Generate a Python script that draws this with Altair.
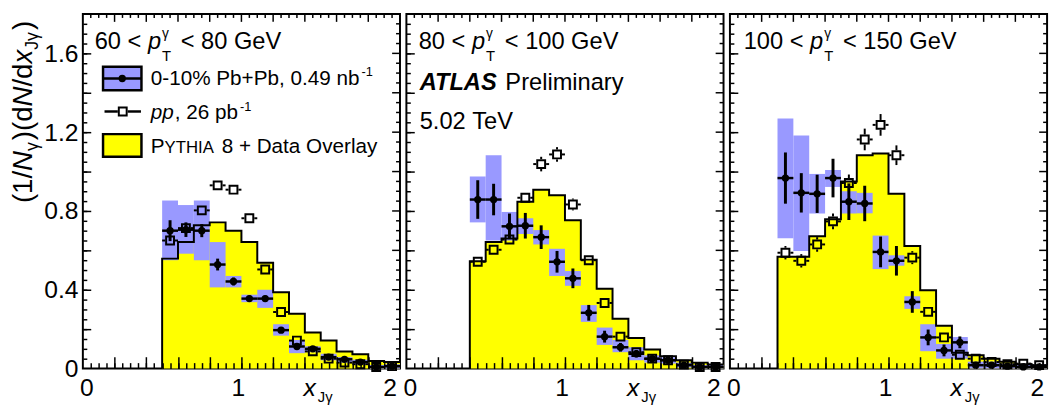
import altair as alt
import pandas as pd
import numpy as np

# ---------------- data ----------------
# bin centres (bin width 0.1)
centers_60_80 = [0.55, 0.65, 0.75, 0.85, 0.95, 1.05, 1.15, 1.25, 1.35, 1.45, 1.55, 1.65, 1.75, 1.85, 1.95]
centers_80_100 = [0.45, 0.55, 0.65, 0.75, 0.85, 0.95, 1.05, 1.15, 1.25, 1.35, 1.45, 1.55, 1.65, 1.75, 1.85, 1.95]
centers_100_150 = [0.35, 0.45, 0.55, 0.65, 0.75, 0.85, 0.95, 1.05, 1.15, 1.25, 1.35, 1.45, 1.55, 1.65, 1.75, 1.85, 1.95]

# PYTHIA 8 + Data Overlay histogram
pythia_60_80 = [0.558, 0.642, 0.728, 0.742, 0.70, 0.642, 0.537, 0.387, 0.278, 0.183, 0.142, 0.087, 0.073, 0.038, 0.033]
pythia_80_100 = [0.545, 0.642, 0.66, 0.847, 0.908, 0.88, 0.753, 0.553, 0.405, 0.253, 0.155, 0.097, 0.063, 0.042, 0.03, 0.02]
pythia_100_150 = [0.567, 0.567, 0.672, 0.758, 0.95, 1.083, 1.092, 0.887, 0.622, 0.397, 0.217, 0.08, 0.068, 0.05, 0.035, 0.022, 0.015]

# 0-10% Pb+Pb points, statistical errors
pbpb_60_80 = [0.70, 0.705, 0.70, 0.528, 0.442, 0.355, 0.355, 0.195, 0.112, 0.10, 0.058, 0.047, 0.033, 0.008, 0.012]
pbpb_err_60_80 = [0.053, 0.037, 0.033, 0.03, 0.02, 0.015, 0.015, 0.012, 0.01, 0.01, 0.008, 0.008, 0.006, 0.005, 0.005]
pbpb_80_100 = [0.858, 0.858, 0.722, 0.725, 0.667, 0.542, 0.458, 0.283, 0.162, 0.108, 0.075, 0.05, 0.042, 0.017, 0.008, 0.008]
pbpb_err_80_100 = [0.098, 0.08, 0.065, 0.065, 0.06, 0.055, 0.05, 0.04, 0.03, 0.022, 0.018, 0.012, 0.01, 0.008, 0.006, 0.006]
pbpb_100_150 = [0.967, 0.892, 0.887, 0.967, 0.847, 0.838, 0.592, 0.547, 0.338, 0.158, 0.092, 0.133, 0.017, 0.017, 0.012, 0.008, 0.008]
pbpb_err_100_150 = [0.13, 0.10, 0.097, 0.098, 0.093, 0.09, 0.078, 0.075, 0.055, 0.04, 0.03, 0.03, 0.012, 0.01, 0.008, 0.006, 0.006]

# Pb+Pb systematic boxes (low, high)
sys_lo_60_80 = [0.55, 0.583, 0.55, 0.412, 0.412, 0.337, 0.308, 0.167, 0.078, 0.083, 0.042, 0.03, 0.02, 0.0, 0.0]
sys_hi_60_80 = [0.853, 0.83, 0.853, 0.642, 0.47, 0.375, 0.40, 0.225, 0.145, 0.113, 0.075, 0.058, 0.045, 0.018, 0.022]
sys_lo_80_100 = [0.742, 0.65, 0.65, 0.683, 0.63, 0.47, 0.42, 0.237, 0.12, 0.083, 0.042, 0.03, 0.025, 0.005, 0.0, 0.0]
sys_hi_80_100 = [0.975, 1.083, 0.795, 0.763, 0.703, 0.608, 0.495, 0.322, 0.208, 0.145, 0.108, 0.067, 0.058, 0.03, 0.018, 0.018]
sys_lo_100_150 = [0.662, 0.597, 0.787, 0.922, 0.787, 0.788, 0.505, 0.522, 0.303, 0.088, 0.05, 0.05, 0.0, 0.0, 0.0, 0.0, 0.0]
sys_hi_100_150 = [1.27, 1.183, 0.988, 1.008, 0.90, 0.892, 0.675, 0.575, 0.367, 0.225, 0.125, 0.16, 0.035, 0.035, 0.025, 0.02, 0.02]

# pp points
pp_60_80 = [0.65, 0.713, 0.803, 0.93, 0.908, 0.763, 0.503, 0.287, 0.142, 0.087, 0.05, 0.03, 0.022, 0.008, 0.012]
pp_err_60_80 = [0.015, 0.015, 0.015, 0.015, 0.015, 0.013, 0.012, 0.01, 0.008, 0.006, 0.005, 0.004, 0.004, 0.003, 0.003]
pp_80_100 = [0.542, 0.603, 0.655, 0.867, 1.038, 1.087, 0.833, 0.55, 0.333, 0.162, 0.083, 0.05, 0.042, 0.02, 0.008, 0.008]
pp_err_80_100 = [0.022, 0.022, 0.022, 0.025, 0.037, 0.037, 0.03, 0.022, 0.018, 0.013, 0.01, 0.008, 0.006, 0.005, 0.004, 0.004]
pp_100_150 = [0.588, 0.547, 0.63, 0.747, 0.942, 1.163, 1.237, 1.083, 0.563, 0.288, 0.158, 0.07, 0.05, 0.033, 0.022, 0.025, 0.017]
pp_err_100_150 = [0.034, 0.034, 0.037, 0.04, 0.043, 0.055, 0.055, 0.05, 0.033, 0.025, 0.02, 0.015, 0.012, 0.01, 0.008, 0.008, 0.006]

pt_ranges = [("60", "80"), ("80", "100"), ("100", "150")]
x_tick_labels = [0, 1, 2]
y_tick_labels = [0, 0.4, 0.8, 1.2, 1.6]
x_minor_ticks = [round(0.05 * k, 2) for k in range(1, 40)]
x_major_ticks = [round(0.2 * k, 2) for k in range(1, 10)]
y_minor_ticks = [round(0.05 * k, 2) for k in range(1, 36)]
y_major_ticks = [round(0.2 * k, 2) for k in range(1, 9)]

# ---------------- style ----------------
FONT = "Liberation Sans"
W, H = 322, 360
XMAX, YMAX = 2.0, 1.8
PX_X = W / XMAX      # pixels per x unit
PX_Y = H / YMAX      # pixels per y unit
BLUE = "#9999ff"
YELLOW = "#ffff00"
HALF_BIN = 0.05
SQ_HALF = 5.0        # half outer size of pp square, px
TICK_W = 1.5
NB = "\u00a0"

AW = {' ': 278, NB: 278, '!': 278, '%': 889, '(': 333, ')': 333, '+': 584, ',': 278, '-': 333,
      '.': 278, '/': 278, '<': 584, '>': 584, '=': 584, 'γ': 500}
for d in '0123456789':
    AW[d] = 556
AW.update(dict(zip('ABCDEFGHIJKLMNOPQRSTUVWXYZ',
                   [667, 667, 722, 722, 667, 611, 778, 722, 278, 500, 667, 556, 833, 722, 778, 667, 778,
                    722, 667, 611, 722, 667, 944, 667, 667, 611])))
AW.update(dict(zip('abcdefghijklmnopqrstuvwxyz',
                   [556, 556, 500, 556, 556, 278, 556, 556, 222, 222, 500, 222, 833, 556, 556, 556, 556,
                    333, 500, 278, 556, 500, 722, 500, 500, 500])))
AWB = {'A': 722, 'T': 611, 'L': 611, 'S': 667}


def tw(s, size, bold=False):
    tot = 0
    for ch in s:
        tot += (AWB.get(ch, AW.get(ch, 556)) if bold else AW.get(ch, 556))
    return tot * size / 1000.0


def one():
    return pd.DataFrame({"a": [0]})


def txt(s, x, y, size, italic=False, bold=False, angle=None, align="left"):
    kw = dict(font=FONT, fontSize=size, fontStyle="italic" if italic else "normal",
              fontWeight="bold" if bold else "normal", align=align, baseline="alphabetic",
              color="black")
    if angle is not None:
        kw["angle"] = angle
    return alt.Chart(pd.DataFrame({"t": [s]})).mark_text(**kw).encode(
        x=alt.value(x), y=alt.value(y), text="t:N")


xscale = alt.Scale(domain=[0, XMAX], nice=False, zero=False)
yscale = alt.Scale(domain=[0, YMAX], nice=False, zero=False)


def X(f):
    return alt.X(f, type="quantitative", scale=xscale, axis=None)


def Y(f):
    return alt.Y(f, type="quantitative", scale=yscale, axis=None)


def tick_axis(orient, values, size):
    # axis moved inside the frame by `size` so that its outward ticks end on the frame
    return alt.Axis(orient=orient, values=values, offset=-size, tickSize=size, ticks=True,
                    labels=False, domain=False, grid=False, title=None, tickColor="black",
                    tickWidth=TICK_W, tickOpacity=1, zindex=2)


def axis_carrier(xaxis, yaxis):
    d = pd.DataFrame({"cx": [1.0], "cy": [0.9]})
    return alt.Chart(d).mark_point(opacity=0, size=1).encode(
        x=alt.X("cx:Q", scale=xscale, axis=xaxis), y=alt.Y("cy:Q", scale=yscale, axis=yaxis))


def edge_ticks(side):
    """Top / right inward ticks as rule segments (data units)."""
    rows = []
    if side == "top":
        for v in x_minor_ticks:
            L = 8 if v in x_major_ticks else 4
            rows.append((v, v, YMAX - L / PX_Y, YMAX))
    else:
        for v in y_minor_ticks:
            L = 8 if v in y_major_ticks else 4
            rows.append((XMAX - L / PX_X, XMAX, v, v))
    return pd.DataFrame(rows, columns=["ex1", "ex2", "ey1", "ey2"])


def panel(idx, centers, pythia, pbpb, pbpb_err, sys_lo, sys_hi, pp, pp_err):
    df = pd.DataFrame(dict(c=centers, pythia=pythia, pbpb=pbpb, pbpb_err=pbpb_err,
                           sys_lo=sys_lo, sys_hi=sys_hi, pp=pp, pp_err=pp_err))
    df["lo"] = df.c - HALF_BIN
    df["hi"] = df.c + HALF_BIN
    df["pb_lo"] = df.pbpb - df.pbpb_err
    df["pb_hi"] = df.pbpb + df.pbpb_err
    dxs = SQ_HALF / PX_X
    dys = SQ_HALF / PX_Y
    df["pp_lo"] = df.pp - df.pp_err
    df["pp_hi"] = df.pp + df.pp_err
    df["pp_in_lo"] = df.pp - dys
    df["pp_in_hi"] = df.pp + dys
    df["c_l"] = df.c - dxs
    df["c_r"] = df.c + dxs
    dfv = df[df.pp_err > dys + 0.002]

    # histogram (area + step outline)
    area = pd.DataFrame(dict(xs=list(df.lo) + [df.hi.iloc[-1]],
                             ys=list(df.pythia) + [df.pythia.iloc[-1]]))
    area["zero"] = 0.0
    sx = [df.lo.iloc[0]] + list(df.lo) + [df.hi.iloc[-1]]
    sy = [0.0] + list(df.pythia) + [df.pythia.iloc[-1]]
    step = pd.DataFrame(dict(xs=sx, ys=sy, i=range(len(sx))))

    base = alt.Chart(df)
    layers = []
    layers.append(alt.Chart(area).mark_area(interpolate="step-after", color=YELLOW, opacity=1).encode(
        x=X("xs"), y=Y("ys"), y2="zero"))
    layers.append(base.mark_rect(color=BLUE, opacity=1).encode(x=X("lo"), x2="hi", y=Y("sys_lo"), y2="sys_hi"))
    layers.append(alt.Chart(step).mark_line(interpolate="step-after", color="black", strokeWidth=2).encode(
        x=X("xs"), y=Y("ys"), order="i:Q"))

    # pp : error bars drawn outside the open square
    bw = dict(color="black", strokeWidth=2)
    layers.append(alt.Chart(dfv).mark_rule(**bw).encode(x=X("c"), y=Y("pp_in_hi"), y2="pp_hi"))
    layers.append(alt.Chart(dfv).mark_rule(**bw).encode(x=X("c"), y=Y("pp_lo"), y2="pp_in_lo"))
    layers.append(base.mark_rule(**bw).encode(x=X("lo"), x2="c_l", y=Y("pp")))
    layers.append(base.mark_rule(**bw).encode(x=X("c_r"), x2="hi", y=Y("pp")))
    layers.append(base.mark_point(shape="square", filled=False, size=64, strokeWidth=2, color="black",
                                  opacity=1).encode(x=X("c"), y=Y("pp")))
    # Pb+Pb
    layers.append(base.mark_rule(color="black", strokeWidth=3).encode(x=X("c"), y=Y("pb_lo"), y2="pb_hi"))
    layers.append(base.mark_rule(color="black", strokeWidth=2.5).encode(x=X("lo"), x2="hi", y=Y("pbpb")))
    layers.append(base.mark_point(shape="circle", filled=True, size=55, color="black", opacity=1).encode(
        x=X("c"), y=Y("pbpb")))

    # inward ticks: bottom / left via displaced axes, top / right via rule segments
    layers.append(axis_carrier(tick_axis("bottom", x_major_ticks, 12), tick_axis("left", y_major_ticks, 8)))
    layers.append(axis_carrier(tick_axis("bottom", x_minor_ticks, 6), tick_axis("left", y_minor_ticks, 4)))
    et = edge_ticks("top")
    er = edge_ticks("right")
    layers.append(alt.Chart(et).mark_rule(color="black", strokeWidth=TICK_W).encode(
        x=X("ex1"), x2="ex2", y=Y("ey1"), y2="ey2"))
    layers.append(alt.Chart(er).mark_rule(color="black", strokeWidth=TICK_W).encode(
        x=X("ex1"), x2="ex2", y=Y("ey1"), y2="ey2"))
    if idx == 0:
        ylab = alt.Axis(orient="left", values=y_tick_labels, title=None, grid=False, ticks=False, tickSize=0,
                        domain=False, labelFont=FONT, labelFontSize=25, labelColor="black", labelFlush=False,
                        labelPadding=5, labelOverlap=False,
                        labelExpr="datum.value == 0 ? '0' : format(datum.value, '.1f')")
        layers.append(axis_carrier(None, ylab))

    # x tick labels (text marks at the scale positions)
    xl = pd.DataFrame({"v": x_tick_labels, "t": [str(v) for v in x_tick_labels]})
    lab = dict(font=FONT, fontSize=25, color="black", baseline="alphabetic", dx=-3)
    layers.append(alt.Chart(xl.iloc[[0]]).mark_text(align="left", **lab).encode(
        x=X("v"), y=alt.value(H + 28), text="t:N"))
    layers.append(alt.Chart(xl.iloc[[1]]).mark_text(align="center", **lab).encode(
        x=X("v"), y=alt.value(H + 28), text="t:N"))
    layers.append(alt.Chart(xl.iloc[[2]]).mark_text(align="right", **lab).encode(
        x=X("v"), y=alt.value(H + 28), text="t:N"))

    # header  "lo < p_T^gamma < hi GeV"
    lo, hi = pt_ranges[idx]
    x0 = [12, 12.5, 14][idx]
    y0 = 36
    f = 24
    pre = f"{lo} <"
    xp = x0 + tw(pre + " ", f)
    layers.append(txt(pre, x0, y0, f))
    layers.append(txt("p", xp, y0, f, italic=True))
    pend = xp + tw("p", f)
    layers.append(txt("γ", pend + 1, y0 - 12, 14))
    layers.append(txt("T", pend + 1, y0 + 12, 15))
    layers.append(txt(f"<{NB}{hi}{NB}GeV", pend + 20, y0, f))

    # x axis title
    layers.append(txt("x", 224, H + 28, 25, italic=True))
    layers.append(txt("Jγ", 238.5, H + 34, 15))

    if idx == 0:
        # y axis title (rotated)
        fy, fs = 28, 18
        xb = -52
        y = 192.0
        for s, sub, it in (("(1/", False, False), ("N", False, True), ("γ", True, False),
                           (")(d", False, False), ("N", False, True), ("/d", False, False),
                           ("x", False, True), ("Jγ", True, False), (")", False, False)):
            size = fs if sub else fy
            layers.append(txt(s, xb + (6 if sub else 0), y, size, italic=it, angle=270))
            y -= tw(s, size) + (2 if sub else 0)
        # legend
        fl = 21
        layers.append(alt.Chart(one()).mark_rect(
            fill=BLUE, stroke="black", strokeWidth=2.5).encode(
            x=alt.value(20.5), x2=alt.value(59.5), y=alt.value(53.5), y2=alt.value(77.5)))
        layers.append(alt.Chart(one()).mark_rule(color="black", strokeWidth=2.5).encode(
            x=alt.value(20.5), x2=alt.value(59.5), y=alt.value(65.5)))
        layers.append(alt.Chart(one()).mark_point(
            shape="circle", filled=True, size=55, color="black", opacity=1).encode(
            x=alt.value(40), y=alt.value(65.5)))
        s1 = f"0-10%{NB}Pb+Pb,{NB}0.49{NB}nb"
        layers.append(txt(s1, 69, 71.7, fl))
        layers.append(txt("-1", 69 + tw(s1, fl) + 2, 63, 13))

        layers.append(alt.Chart(one()).mark_rule(color="black", strokeWidth=2.5).encode(
            x=alt.value(22), x2=alt.value(35.5), y=alt.value(99)))
        layers.append(alt.Chart(one()).mark_rule(color="black", strokeWidth=2.5).encode(
            x=alt.value(45.5), x2=alt.value(59), y=alt.value(99)))
        layers.append(alt.Chart(one()).mark_point(
            shape="square", filled=False, size=64, strokeWidth=2, color="black", opacity=1).encode(
            x=alt.value(40.5), y=alt.value(99)))
        layers.append(txt("pp", 69, 107, fl, italic=True))
        s2 = f",{NB}26{NB}pb"
        x2p = 69 + tw("pp", fl) + 1
        layers.append(txt(s2, x2p, 107, fl))
        layers.append(txt("-1", x2p + tw(s2, fl) + 2, 98, 13))

        layers.append(alt.Chart(one()).mark_rect(
            fill=YELLOW, stroke="black", strokeWidth=2.5).encode(
            x=alt.value(20.5), x2=alt.value(59.5), y=alt.value(122), y2=alt.value(145)))
        layers.append(txt("P", 69, 141, fl))
        xy = 69 + tw("P", fl)
        layers.append(txt("YTHIA", xy, 141, 17))
        xr = xy + tw("YTHIA", 17) + tw(" ", fl) + 2
        layers.append(txt(f"8{NB}+{NB}Data{NB}Overlay", xr, 141, fl))

    if idx == 1:
        layers.append(txt("ATLAS", 13.5, 77, 24, italic=True, bold=True))
        layers.append(txt("Preliminary", 13.5 + tw("ATLAS", 24, bold=True) + 7, 77, 24))
        layers.append(txt(f"5.02{NB}TeV", 13.5, 117, 24))

    return alt.layer(*layers).resolve_axis(x="independent", y="independent").properties(width=W, height=H)


p1 = panel(0, centers_60_80, pythia_60_80, pbpb_60_80, pbpb_err_60_80, sys_lo_60_80, sys_hi_60_80,
           pp_60_80, pp_err_60_80)
p2 = panel(1, centers_80_100, pythia_80_100, pbpb_80_100, pbpb_err_80_100, sys_lo_80_100, sys_hi_80_100,
           pp_80_100, pp_err_80_100)
p3 = panel(2, centers_100_150, pythia_100_150, pbpb_100_150, pbpb_err_100_150, sys_lo_100_150,
           sys_hi_100_150, pp_100_150, pp_err_100_150)

chart = alt.hconcat(p1, p2, p3, spacing=6.5, bounds="flush").configure_view(
    stroke="black", strokeWidth=2).properties(
    padding={"left": 1, "top": 1, "right": 0, "bottom": 0}, background="white")

chart.save("out.html", embed_options={"renderer": "svg", "actions": False})
